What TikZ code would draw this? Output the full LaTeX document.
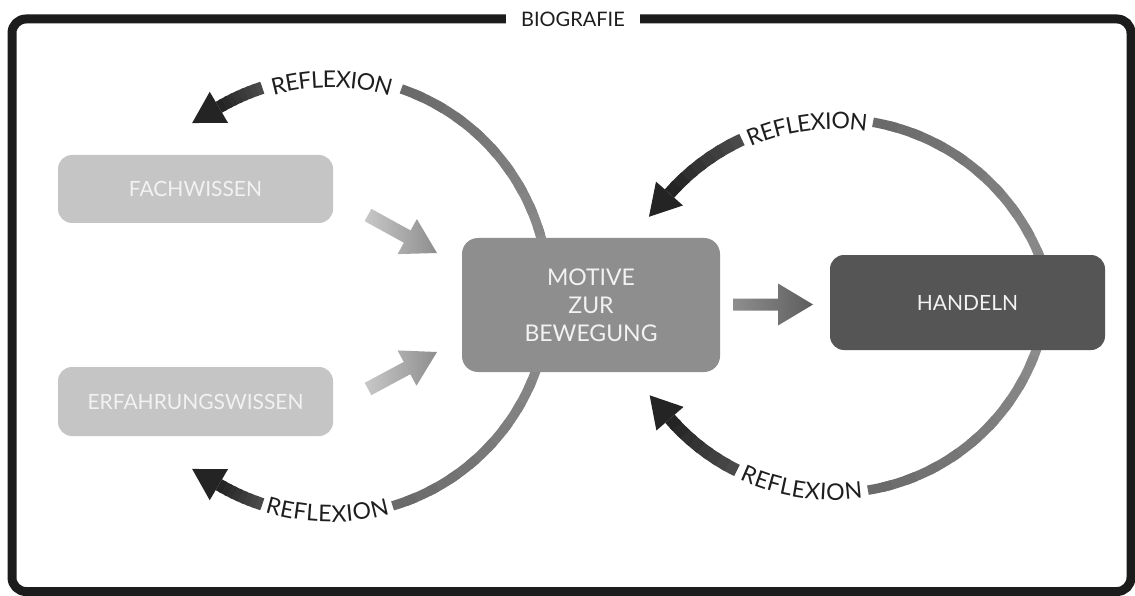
\documentclass[tikz,border=0pt]{standalone}
\usepackage{fontspec}
\setmainfont{Lato}
\usetikzlibrary{calc,decorations.text}

\definecolor{framecol}{HTML}{1C1C1C}
\definecolor{lightbox}{HTML}{C5C5C5}
\definecolor{midbox}{HTML}{8E8E8E}
\definecolor{darkbox}{HTML}{555555}
\definecolor{boxtext}{HTML}{F2F2F2}
\definecolor{arcpale}{HTML}{8C8C8C}
\definecolor{arcmid}{HTML}{6A6A6A}
\definecolor{shaftstart}{HTML}{4A4A4A}
\definecolor{shaftend}{HTML}{242424}
\definecolor{labeldark}{HTML}{1E1E1E}

\newcommand\labelfont{\fontsize{23}{23}\selectfont}

% arc about (#1,#2), radius #3, from angle #4 to #5, width #6,
% shaded from colour #7 to colour #8 in #9 pieces
\newcommand\gradarc[9]{%
  \foreach \k in {1,...,#9}{%
    \pgfmathsetmacro\ga{#4+(#5-#4)*(\k-1)/#9}%
    \pgfmathsetmacro\gb{#4+(#5-#4)*min(\k+0.4,#9)/#9}%
    \pgfmathsetmacro\glo{min(\ga,\gb)}%
    \pgfmathsetmacro\ghi{max(\ga,\gb)}%
    \pgfmathsetmacro\gp{100*(\k-1)/(#9-1)}%
    \draw[line width=#6, color=#8!\gp!#7]
      plot[domain=\glo:\ghi, samples=6] ({#1+#3*cos(\x)},{#2+#3*sin(\x)});
  }%
}

% one REFLEXION loop about (#1,#2), radius #3: grey arc from #4 to #5,
% curved label from #5 to #6 (shifted by #8), dark shaft from #6 to #7, then the head
\newcommand\reflexionloop[8]{%
  \gradarc{#1}{#2}{#3}{#4}{#5}{9.5pt}{arcpale}{arcmid}{10}%
  \path[decorate,decoration={text along path,text align=center,raise=#8,
      text color=labeldark,text={|\labelfont|REFLEXION}}]
    plot[domain=0:1,samples=40] ({#1+#3*cos(#6+(#5-#6)*\x)},{#2+#3*sin(#6+(#5-#6)*\x)});
  \gradarc{#1}{#2}{#3}{#6}{#7}{12.5pt}{shaftstart}{shaftend}{8}%
  \pgfmathsetmacro\hd{#7+90*sign(#7-#6)}%
  \coordinate (hb) at ($(#1,#2)+(#7:#3)$);
  \coordinate (ht) at ($(hb)+(\hd:31)$);
  \fill[shaftend] (ht) -- ($(hb)!18pt!90:(ht)$) -- ($(hb)!18pt!-90:(ht)$) -- cycle;
}

% broad straight arrow from #1 to #2: half shaft #3, half head #4,
% head length #5, shading options #6
\newcommand\fatarrow[6]{%
  \coordinate (#2-base) at ($(#2)!#5!(#1)$);
  \shade[#6] ($(#1)!#3!90:(#2)$) -- ($(#2-base)!#3!90:(#2)$)
    -- ($(#2-base)!#4!90:(#2)$) -- (#2) -- ($(#2-base)!#4!-90:(#2)$)
    -- ($(#2-base)!#3!-90:(#2)$) -- ($(#1)!#3!-90:(#2)$) -- cycle;
}

\tikzset{
  box/.style={rounded corners=14pt, inner sep=0pt, text=boxtext,
    font=\fontsize{21}{28}\selectfont, align=center},
  framebox/.style={draw=framecol, line width=9pt, rounded corners=14pt}
}

\begin{document}
\begin{tikzpicture}[x=1pt,y=-1pt]
\useasboundingbox (0,0) rectangle (1135,596);
\fill[white] (0,0) rectangle (1135,596);

% outer frame with its title
\draw[framebox] (12,19) rectangle (1131,591.5);
\node[fill=white, inner xsep=15pt, inner ysep=3pt, text=labeldark,
      font=\fontsize{20}{20}\selectfont] (title) at (573,19) {BIOGRAFIE};

% reflection loops
\reflexionloop{330}{296}{219}{-10}{-71}{-108}{-120.5}{-10.5pt}
\reflexionloop{330}{296}{219}{10}{73.4}{108}{120.5}{-7pt}
\reflexionloop{835}{340}{221}{-15}{-80.1}{-114.9}{-138.5}{-10pt}
\reflexionloop{833}{277}{216}{15}{80.7}{116.4}{139}{-7pt}

% boxes
\node[box, fill=lightbox, minimum width=275pt, minimum height=68pt] (fach) at (195.5,189) {FACHWISSEN};
\node[box, fill=lightbox, minimum width=275pt, minimum height=69pt] (erf) at (195.5,401.5) {ERFAHRUNGSWISSEN};
\node[box, fill=midbox, minimum width=258pt, minimum height=134pt, rounded corners=16pt,
      font=\fontsize{23}{28}\selectfont] (motive) at (591,305) {MOTIVE\\ZUR\\BEWEGUNG};
\node[box, fill=darkbox, minimum width=275pt, minimum height=95pt] (handeln) at (967.5,302.5) {HANDELN};

% straight arrows into and out of the central box
\coordinate (fachtail) at (368,215);
\coordinate (fachtip) at (437,253);
\coordinate (erftail) at (368,389);
\coordinate (erftip) at (437,352);
\coordinate (motail) at (733,304.5);
\coordinate (motip) at (813,304.5);
\fatarrow{fachtail}{fachtip}{7pt}{20pt}{34pt}{left color=lightbox!95!white, right color=midbox}
\fatarrow{erftail}{erftip}{7pt}{20pt}{34pt}{left color=lightbox!95!white, right color=midbox}
\fatarrow{motail}{motip}{6pt}{21pt}{35pt}{left color=midbox, right color=darkbox!95!white}
\end{tikzpicture}
\end{document}
